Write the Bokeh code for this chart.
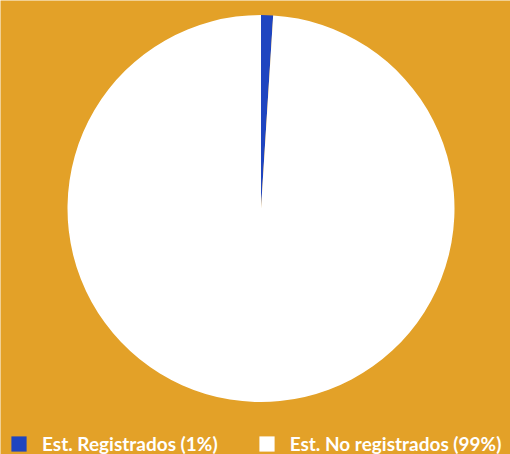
import math
from bokeh.plotting import figure
from bokeh.models import Range1d, Legend, LegendItem, ColumnDataSource
from bokeh.embed import file_html
from bokeh.resources import INLINE

labels = ["Est. Registrados (1%)", "Est. No registrados (99%)"]
values = [1, 99]
colors = ["#1f45c0", "#ffffff"]
BG = "#e3a128"

W, H = 510, 454
p = figure(width=W, height=H, output_backend="svg", toolbar_location=None,
           x_range=Range1d(0, W), y_range=Range1d(0, H), min_border=0)
p.axis.visible = False
p.grid.visible = False
p.outline_line_color = None
p.background_fill_color = BG
p.border_fill_color = BG

total = sum(values)
starts, ends = [], []
a = math.pi / 2
for v in values:
    ang = v / total * 2 * math.pi
    starts.append(a)
    ends.append(a - ang)
    a -= ang

src = ColumnDataSource(dict(start=starts, end=ends, color=colors, label=labels,
                            x=[260.5] * 2, y=[H - 208] * 2))
r = p.wedge(x="x", y="y", radius=193.5, start_angle="start", end_angle="end",
            direction="clock", fill_color="color", line_color=None, source=src)

items = [LegendItem(label=labels[i], renderers=[r], index=i) for i in range(len(labels))]
leg = Legend(items=items, orientation="horizontal", location=(9, -1),
             background_fill_alpha=0, border_line_alpha=0, padding=0, margin=0,
             spacing=39, glyph_width=19, glyph_height=19, label_height=19,
             label_standoff=14, label_text_color="white",
             label_text_font="Lato", label_text_font_style="bold",
             label_text_font_size="19px")
p.add_layout(leg, "center")

html = file_html(p, INLINE)
open("out.html", "w").write(html)
